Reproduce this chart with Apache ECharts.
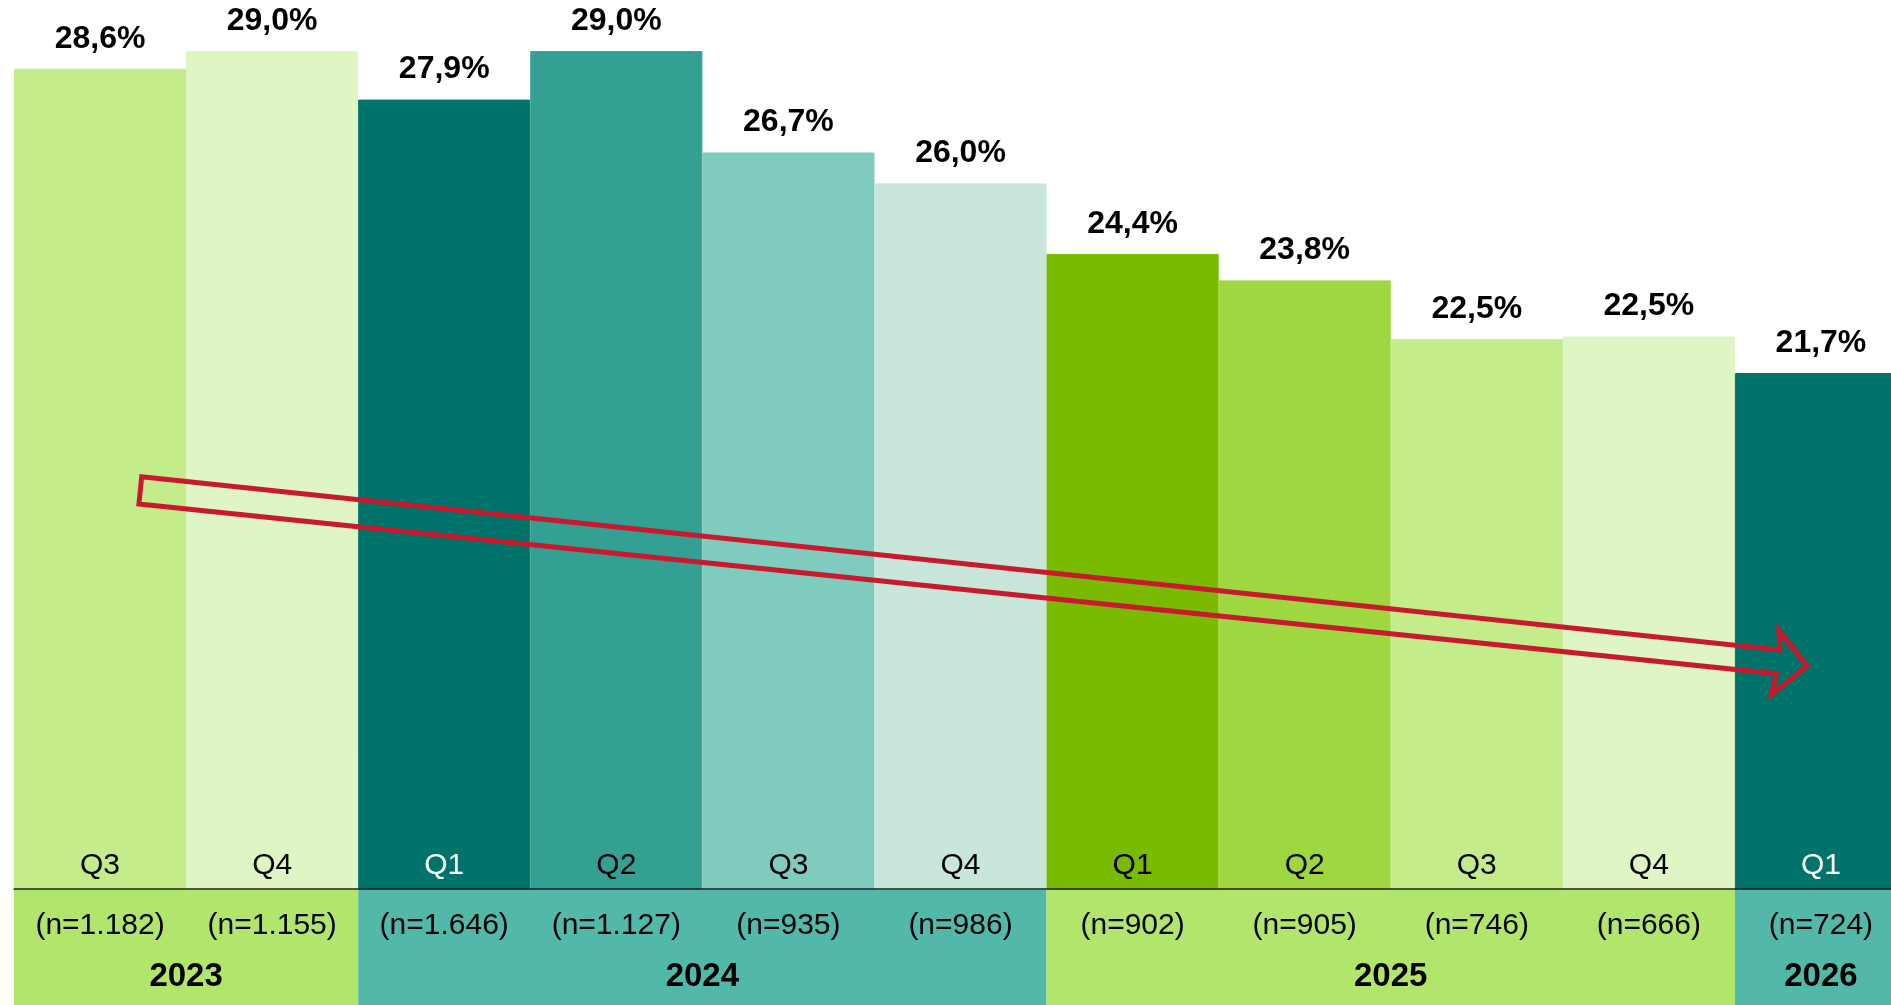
<!DOCTYPE html>
<html>
<head>
<meta charset="utf-8">
<script src="https://cdn.jsdelivr.net/npm/echarts@6/dist/echarts.min.js"></script>
<style>
html,body{margin:0;padding:0;background:#fff;overflow:hidden;}
#chart{width:1891px;height:1005px;}
</style>
</head>
<body>
<div id="chart"></div>
<script>
// ---- data ----
const quarters = ['Q3','Q4','Q1','Q2','Q3','Q4','Q1','Q2','Q3','Q4','Q1'];
const years    = ['2023','2023','2024','2024','2024','2024','2025','2025','2025','2025','2026'];
const nLabels  = ['(n=1.182)','(n=1.155)','(n=1.646)','(n=1.127)','(n=935)','(n=986)','(n=902)','(n=905)','(n=746)','(n=666)','(n=724)'];
const values   = [28.6, 29.0, 27.9, 29.0, 26.7, 26.0, 24.4, 23.8, 22.47, 22.53, 21.7];

const yearGroups = ['2023','2024','2025','2026'];
const yearStart  = [0, 2, 6, 10];
const yearEnd    = [1, 5, 9, 10];

// trend arrow outline (x = category position, y = value)
const arrowX = [0.242, 9.761, 9.756, 9.920, 9.713, 9.742, 0.226];
const arrowY = [19.35, 15.42, 15.86, 15.06, 14.41, 14.88, 18.73];

// ---- styles ----
const barColors = ['#c5ec8b','#dff5c3','#00746a','#34a093','#7fcbbd','#c8e6da','#7aba00','#9ed73f','#c5ec8b','#dff5c3','#00746a'];
const yearColor = {'2023':'#b2e56b','2024':'#52b9aa','2025':'#b2e56b','2026':'#52b9aa'};
const darkBars = ['#00746a'];
const FONT = 'Liberation Sans, Arial, sans-serif';

const chart = echarts.init(document.getElementById('chart'));

const option = {
  backgroundColor: '#ffffff',
  animation: false,
  grid: [
    {left: 14, right: -16, top: 7, bottom: 116, outerBoundsMode: 'none', containLabel: false},
    {left: 14, right: -16, top: 889, bottom: 0, outerBoundsMode: 'none', containLabel: false}
  ],
  xAxis: [
    {
      type: 'category', gridIndex: 0, data: quarters,
      axisLine: {show: true, lineStyle: {color: '#222', width: 1.5}},
      axisTick: {show: false},
      splitLine: {show: false},
      z: 10,
      axisLabel: {
        inside: true, margin: 8, fontFamily: FONT, fontSize: 30,
        color: function (v, i) { return darkBars.indexOf(barColors[i]) >= 0 ? '#ffffff' : '#000000'; }
      }
    },
    {type: 'value', gridIndex: 0, min: -0.5, max: 10.5, show: false},
    {type: 'category', gridIndex: 1, data: nLabels, show: false},
    {type: 'value', gridIndex: 1, min: -0.5, max: 10.5, show: false}
  ],
  yAxis: [
    {type: 'value', gridIndex: 0, min: 10, max: 30, show: false},
    {type: 'value', gridIndex: 1, min: 0, max: 1, show: false}
  ],
  series: [
    {
      type: 'bar', xAxisIndex: 0, yAxisIndex: 0,
      barWidth: '100%', barCategoryGap: 0,
      data: values.map((v, i) => ({value: v, itemStyle: {color: barColors[i], borderColor: barColors[i], borderWidth: 1}})),
      label: {
        show: true, position: 'top', distance: 14,
        fontFamily: FONT, fontSize: 32, fontWeight: 'bold', color: '#000',
        formatter: p => p.value.toFixed(1).replace('.', ',') + '%'
      },
      z: 2
    },
    {
      // year bands
      type: 'custom', xAxisIndex: 3, yAxisIndex: 1,
      data: yearGroups.map((y, i) => [yearStart[i] - 0.5, yearEnd[i] + 0.5]),
      clip: false,
      renderItem: function (params, api) {
        const p0 = api.coord([api.value(0), 1]);
        const p1 = api.coord([api.value(1), 0]);
        return {
          type: 'rect',
          shape: {x: p0[0], y: p0[1], width: p1[0] - p0[0], height: p1[1] - p0[1]},
          style: {fill: yearColor[yearGroups[params.dataIndex]]}
        };
      },
      silent: true, z: 1
    },
    {
      type: 'bar', xAxisIndex: 2, yAxisIndex: 1,
      barWidth: '100%', barCategoryGap: 0,
      data: nLabels.map(() => ({value: 1, itemStyle: {color: 'rgba(0,0,0,0)'}})),
      label: {
        show: true, position: 'insideTop', distance: 22,
        fontFamily: FONT, fontSize: 30, color: '#000',
        formatter: p => nLabels[p.dataIndex]
      },
      silent: true, z: 3
    },
    {
      type: 'custom', xAxisIndex: 3, yAxisIndex: 1,
      data: yearGroups.map((y, i) => [(yearStart[i] + yearEnd[i]) / 2, 0.24]),
      renderItem: function (params, api) {
        const p = api.coord([api.value(0), api.value(1)]);
        return {
          type: 'text',
          x: p[0], y: p[1],
          style: {
            text: yearGroups[params.dataIndex],
            fontFamily: FONT, fontSize: 33, fontWeight: 'bold', fill: '#000',
            align: 'center', verticalAlign: 'middle'
          }
        };
      },
      silent: true, z: 5
    },
    {
      type: 'custom', xAxisIndex: 1, yAxisIndex: 0,
      data: [[0, 0]],
      clip: false,
      renderItem: function (params, api) {
        const pts = arrowX.map((x, i) => api.coord([x, arrowY[i]]));
        return {
          type: 'polygon',
          shape: {points: pts},
          style: {fill: 'none', stroke: '#c8192e', lineWidth: 5, lineJoin: 'miter'}
        };
      },
      silent: true, z: 6
    }
  ]
};
chart.setOption(option);
</script>
</body>
</html>
